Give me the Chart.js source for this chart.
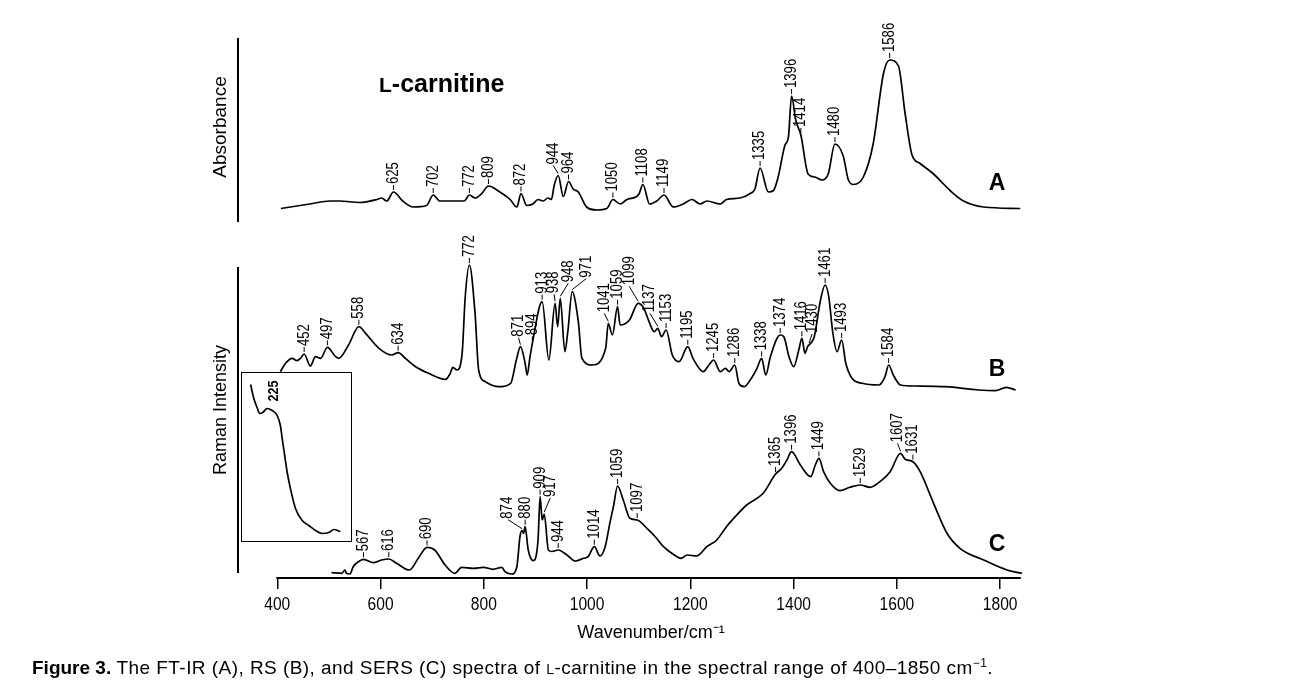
<!DOCTYPE html>
<html>
<head>
<meta charset="utf-8">
<script src="https://cdn.jsdelivr.net/npm/chart.js@4.4.1/dist/chart.umd.min.js"></script>
<style>
  body { margin: 0; background: #fff; }
  #wrap { position: relative; width: 1290px; height: 692px; overflow: hidden; }
  #main { position: absolute; left: 0; top: 0; }
  #insetBox { position: absolute; left: 241px; top: 372px; width: 111px; height: 170px;
              box-sizing: border-box; border: 1.5px solid #000; }
  .txt { position: absolute; font-family: "Liberation Sans", Arial, sans-serif; color: #000; white-space: nowrap; }
</style>
</head>
<body>
<div id="wrap">
  <canvas id="main" width="1290" height="692"></canvas>
  <div id="insetBox"><canvas id="inset" width="108" height="167"></canvas></div>
  <div class="txt" style="left:379px; top:69px; font-size:25px; font-weight:bold;"><span style="font-size:21px">L</span>-carnitine</div>
  <div class="txt" style="left:32px; top:656px; font-size:19px;"><b>Figure 3.</b> <span style="letter-spacing:0.45px">The FT-IR (A), RS (B), and SERS (C) spectra of <span style="font-size:14px">L</span>-carnitine in the spectral range of 400&ndash;1850 cm<sup style="font-size:12px">&minus;1</sup>.</span></div>
</div>
<script>
// ---- data ----
const xTickValues = [400, 600, 800, 1000, 1200, 1400, 1600, 1800];

// A: FT-IR absorbance
const waveA = [407,444,463,502,521,560,593,602,612,625,643,663,689,702,715,740,762,772,783,796,
  809,831,851,864,872,883,895,905,915,924,931,936,944,954,964,973,983,999,1019,1038,
  1050,1064,1077,1096,1101,1108,1121,1135,1149,1167,1186,1203,1219,1232,1258,1270,1296,1316,1325,1335,
  1351,1361,1370,1383,1390,1396,1404,1414,1428,1441,1455,1467,1480,1496,1506,1516,1535,1554,1574,1586,
  1603,1616,1629,1645,1671,1703,1729,1768,1839];
const absA = [0.01,0.03,0.04,0.06,0.06,0.05,0.07,0.08,0.06,0.12,0.06,0.02,0.03,0.10,0.06,0.06,0.06,0.10,0.08,0.11,
  0.16,0.12,0.07,0.02,0.11,0.03,0.04,0.07,0.06,0.08,0.07,0.16,0.23,0.09,0.19,0.14,0.12,0.02,0.00,0.01,
  0.07,0.04,0.07,0.09,0.11,0.17,0.04,0.06,0.10,0.02,0.04,0.07,0.04,0.06,0.04,0.07,0.08,0.11,0.14,0.28,
  0.12,0.13,0.22,0.43,0.49,0.76,0.60,0.50,0.24,0.22,0.20,0.24,0.44,0.36,0.20,0.17,0.22,0.44,0.91,1.00,
  0.96,0.64,0.37,0.31,0.24,0.13,0.06,0.02,0.01];
const peaksA = [625,702,772,809,872,944,964,1050,1108,1149,1335,1396,1414,1480,1586];

// B: Raman (counts, arbitrary)
const waveB = [406,416,429,438,445,452,464,474,484,497,513,519,538,558,571,597,622,634,648,668,
  693,726,735,740,748,758,764,772,783,790,803,829,852,863,871,880,884,889,894,913,
  926,938,943,948,957,963,971,983,990,1010,1036,1041,1049,1059,1064,1082,1099,1110,1120,1130,
  1137,1144,1153,1165,1178,1195,1205,1225,1236,1245,1258,1268,1275,1286,1294,1304,1320,1329,1338,1346,
  1355,1374,1381,1391,1400,1410,1416,1422,1427,1433,1440,1452,1461,1468,1476,1484,1493,1501,1513,1533,
  1565,1577,1584,1593,1607,1636,1694,1758,1791,1812,1830];
const ramanB = [203,287,337,313,337,380,260,353,337,447,353,337,470,653,587,437,370,393,337,253,
  187,127,187,247,220,387,953,1270,787,220,103,53,87,320,453,287,170,337,487,903,
  320,887,653,937,403,620,1003,703,337,270,437,687,570,853,670,720,887,837,703,603,
  637,553,620,370,303,453,337,203,270,320,203,237,203,270,87,53,153,237,337,170,
  353,570,553,353,253,420,537,387,453,487,553,920,1070,953,587,403,520,287,137,87,
  70,153,270,170,70,60,53,20,13,47,20];
const peaksB = [452,497,558,634,772,871,894,913,938,948,971,1041,1059,1099,1137,1153,1195,1245,1286,
  1338,1374,1416,1430,1461,1493,1584];

// C: SERS (counts, arbitrary)
const waveC = [505,525,531,534,541,547,557,567,586,602,616,631,656,673,690,705,725,744,757,780,
  799,818,835,841,854,864,870,874,877,880,886,896,905,909,913,917,925,932,944,961,
  977,993,1002,1014,1025,1035,1044,1051,1059,1070,1083,1097,1116,1132,1148,1164,1182,1194,1212,1232,
  1251,1270,1287,1309,1341,1365,1377,1387,1396,1413,1433,1442,1449,1458,1471,1490,1509,1529,1548,1567,
  1587,1607,1616,1631,1645,1671,1697,1722,1768,1813,1842];
const sersC = [53,47,80,47,40,113,163,187,153,180,190,147,80,197,307,280,130,47,107,97,
  107,87,107,63,40,113,413,473,447,513,280,173,380,813,580,640,280,265,280,230,
  170,197,213,313,220,313,547,713,920,780,597,580,497,413,313,247,197,230,220,313,
  380,513,613,730,847,1040,1097,1180,1263,1130,1013,1130,1197,1063,947,873,907,930,907,963,
  1063,1247,1187,1163,1063,747,447,297,180,80,47];
const peaksC = [567,616,690,874,880,909,917,944,1014,1059,1097,1365,1396,1449,1529,1607,1631];

// inset (low-wavenumber region of C)
const waveInset = [150,159,169,175,184,196,210,224,233,238,245,252,261,275,294,312,331,349,368,382,400];
const sersInset = [155,141,131,126,127,131,129,124,114,101,84,67,51,31,19,14,9,6,7,10,8];

// ---- layout ----
const SANS = '"Liberation Sans", Arial, Helvetica, sans-serif';
const CONDENSE = 0.82;   // figure uses a narrow face
const areaTop = 38, areaBottom = 578;

// each spectrum gets its own y scale so it sits in its band
function band(basePx, pxPerUnit) {
  return { min: -(areaBottom - basePx) / pxPerUnit, max: (basePx - areaTop) / pxPerUnit };
}
const bandA = band(210, 150);
const bandB = band(392, 0.1);
const bandC = band(578, 0.1);

// leader-line offsets for crowded labels [dx, dy] in px
const offA = {944: [-5, -3]};
const offB = {871: [-2, -2], 938: [-1, -2], 948: [8, -8], 971: [14, -6], 1041: [-4, -3],
              1099: [-9, -10], 1137: [-8, -8], 1430: [3, -4]};
const offC = {874: [-14, -4], 917: [6, -9], 1607: [-3, -3]};

function toXY(xs, ys) { return xs.map((x, i) => ({x: x, y: ys[i]})); }

function valueAt(xs, ys, w) {
  for (let i = 1; i < xs.length; i++) {
    if (xs[i] >= w) {
      const t = (w - xs[i - 1]) / (xs[i] - xs[i - 1]);
      return ys[i - 1] + t * (ys[i] - ys[i - 1]);
    }
  }
  return ys[ys.length - 1];
}

function narrowText(ctx, text, x, y, rot, align) {
  ctx.save();
  ctx.translate(x, y);
  if (rot) ctx.rotate(rot);
  ctx.scale(CONDENSE, 1);
  ctx.textAlign = align;
  ctx.textBaseline = 'middle';
  ctx.fillText(text, 0, 0);
  ctx.restore();
}

function peakLabel(ctx, px, py, text, off) {
  const dx = off ? off[0] : 0, dy = off ? off[1] : 0;
  const bx = px + dx, by = py - 7 + dy;
  ctx.beginPath();
  ctx.moveTo(px, py - 2);
  ctx.lineTo(bx, by);
  ctx.stroke();
  narrowText(ctx, text, bx, by - 1, -Math.PI / 2, 'left');
}

const decor = {
  id: 'decor',
  afterDraw(chart) {
    const {ctx, chartArea: ca, scales} = chart;
    const xs = scales.x;
    ctx.save();
    ctx.strokeStyle = '#000';
    ctx.fillStyle = '#000';

    // axis lines
    ctx.lineWidth = 2;
    ctx.beginPath();
    ctx.moveTo(xs.getPixelForValue(400) - 1, ca.bottom);
    ctx.lineTo(xs.getPixelForValue(1840), ca.bottom);
    ctx.moveTo(ca.left + 1, 38);
    ctx.lineTo(ca.left + 1, 222);
    ctx.moveTo(ca.left + 1, 267);
    ctx.lineTo(ca.left + 1, 573);
    ctx.stroke();

    // x tick labels and title
    ctx.font = '19px ' + SANS;
    xTickValues.forEach(v => narrowText(ctx, String(v), xs.getPixelForValue(v), 605, 0, 'center'));
    ctx.font = '18px ' + SANS;
    ctx.textAlign = 'center';
    ctx.textBaseline = 'middle';
    ctx.fillText('Wavenumber/cm\u207B\u00B9', 651, 633);

    // rotated axis titles
    [['Absorbance', 127, 19], ['Raman Intensity', 410, 18]].forEach(([t, cy, fs]) => {
      ctx.font = fs + 'px ' + SANS;
      ctx.save();
      ctx.translate(221, cy);
      ctx.rotate(-Math.PI / 2);
      ctx.fillText(t, 0, 0);
      ctx.restore();
    });

    // panel letters
    ctx.font = 'bold 23px ' + SANS;
    ctx.fillText('A', 997, 184);
    ctx.fillText('B', 997, 370);
    ctx.fillText('C', 997, 545);

    // peak labels
    ctx.font = '16px ' + SANS;
    ctx.lineWidth = 1;
    const panels = [
      [waveA, absA, peaksA, offA, scales.yA],
      [waveB, ramanB, peaksB, offB, scales.yB],
      [waveC, sersC, peaksC, offC, scales.yC]
    ];
    panels.forEach(([w, v, peaks, off, ys]) => {
      peaks.forEach(p => {
        const px = xs.getPixelForValue(p);
        const py = ys.getPixelForValue(valueAt(w, v, p));
        peakLabel(ctx, px, py, String(p), off[p]);
      });
    });
    ctx.restore();
  }
};

const lineStyle = {
  borderColor: '#000', borderWidth: 1.7, pointRadius: 0, fill: false,
  cubicInterpolationMode: 'monotone'
};

new Chart(document.getElementById('main'), {
  type: 'line',
  data: {
    datasets: [
      Object.assign({label: 'A', data: toXY(waveA, absA), yAxisID: 'yA'}, lineStyle),
      Object.assign({label: 'B', data: toXY(waveB, ramanB), yAxisID: 'yB'}, lineStyle),
      Object.assign({label: 'C', data: toXY(waveC, sersC), yAxisID: 'yC'}, lineStyle)
    ]
  },
  options: {
    responsive: false,
    devicePixelRatio: 1,
    animation: false,
    layout: { padding: { left: 237, right: 264, top: areaTop, bottom: 0 } },
    plugins: { legend: { display: false }, tooltip: { enabled: false } },
    scales: {
      x: {
        type: 'linear', min: 322, max: 1850,
        afterBuildTicks: s => { s.ticks = xTickValues.map(v => ({value: v})); },
        afterFit: s => { s.height = 692 - areaBottom; },
        border: { display: false },
        grid: { drawOnChartArea: false, drawTicks: true, tickLength: 11, color: '#000', lineWidth: 1.5 },
        ticks: { display: false },
        title: { display: false }
      },
      yA: { display: false, min: bandA.min, max: bandA.max },
      yB: { display: false, min: bandB.min, max: bandB.max },
      yC: { display: false, min: bandC.min, max: bandC.max }
    }
  },
  plugins: [decor]
});

// inset
const insetLabel = {
  id: 'insetLabel',
  afterDraw(chart) {
    const {ctx, scales} = chart;
    const px = scales.x.getPixelForValue(225) - 3;
    const py = scales.y.getPixelForValue(valueAt(waveInset, sersInset, 225)) - 15;
    ctx.save();
    ctx.fillStyle = '#000';
    ctx.font = 'bold 14px ' + SANS;
    ctx.translate(px, py);
    ctx.rotate(-Math.PI / 2);
    ctx.scale(0.9, 1);
    ctx.textAlign = 'left';
    ctx.textBaseline = 'middle';
    ctx.fillText('225', 0, 0);
    ctx.restore();
  }
};

new Chart(document.getElementById('inset'), {
  type: 'line',
  data: { datasets: [Object.assign({label: 'inset', data: toXY(waveInset, sersInset)}, lineStyle)] },
  options: {
    responsive: false,
    devicePixelRatio: 1,
    animation: false,
    layout: { padding: 0 },
    plugins: { legend: { display: false }, tooltip: { enabled: false } },
    scales: {
      x: { type: 'linear', display: false, min: 126, max: 427 },
      y: { display: false, min: -0.5, max: 166.5 }
    }
  },
  plugins: [insetLabel]
});
</script>
</body>
</html>
